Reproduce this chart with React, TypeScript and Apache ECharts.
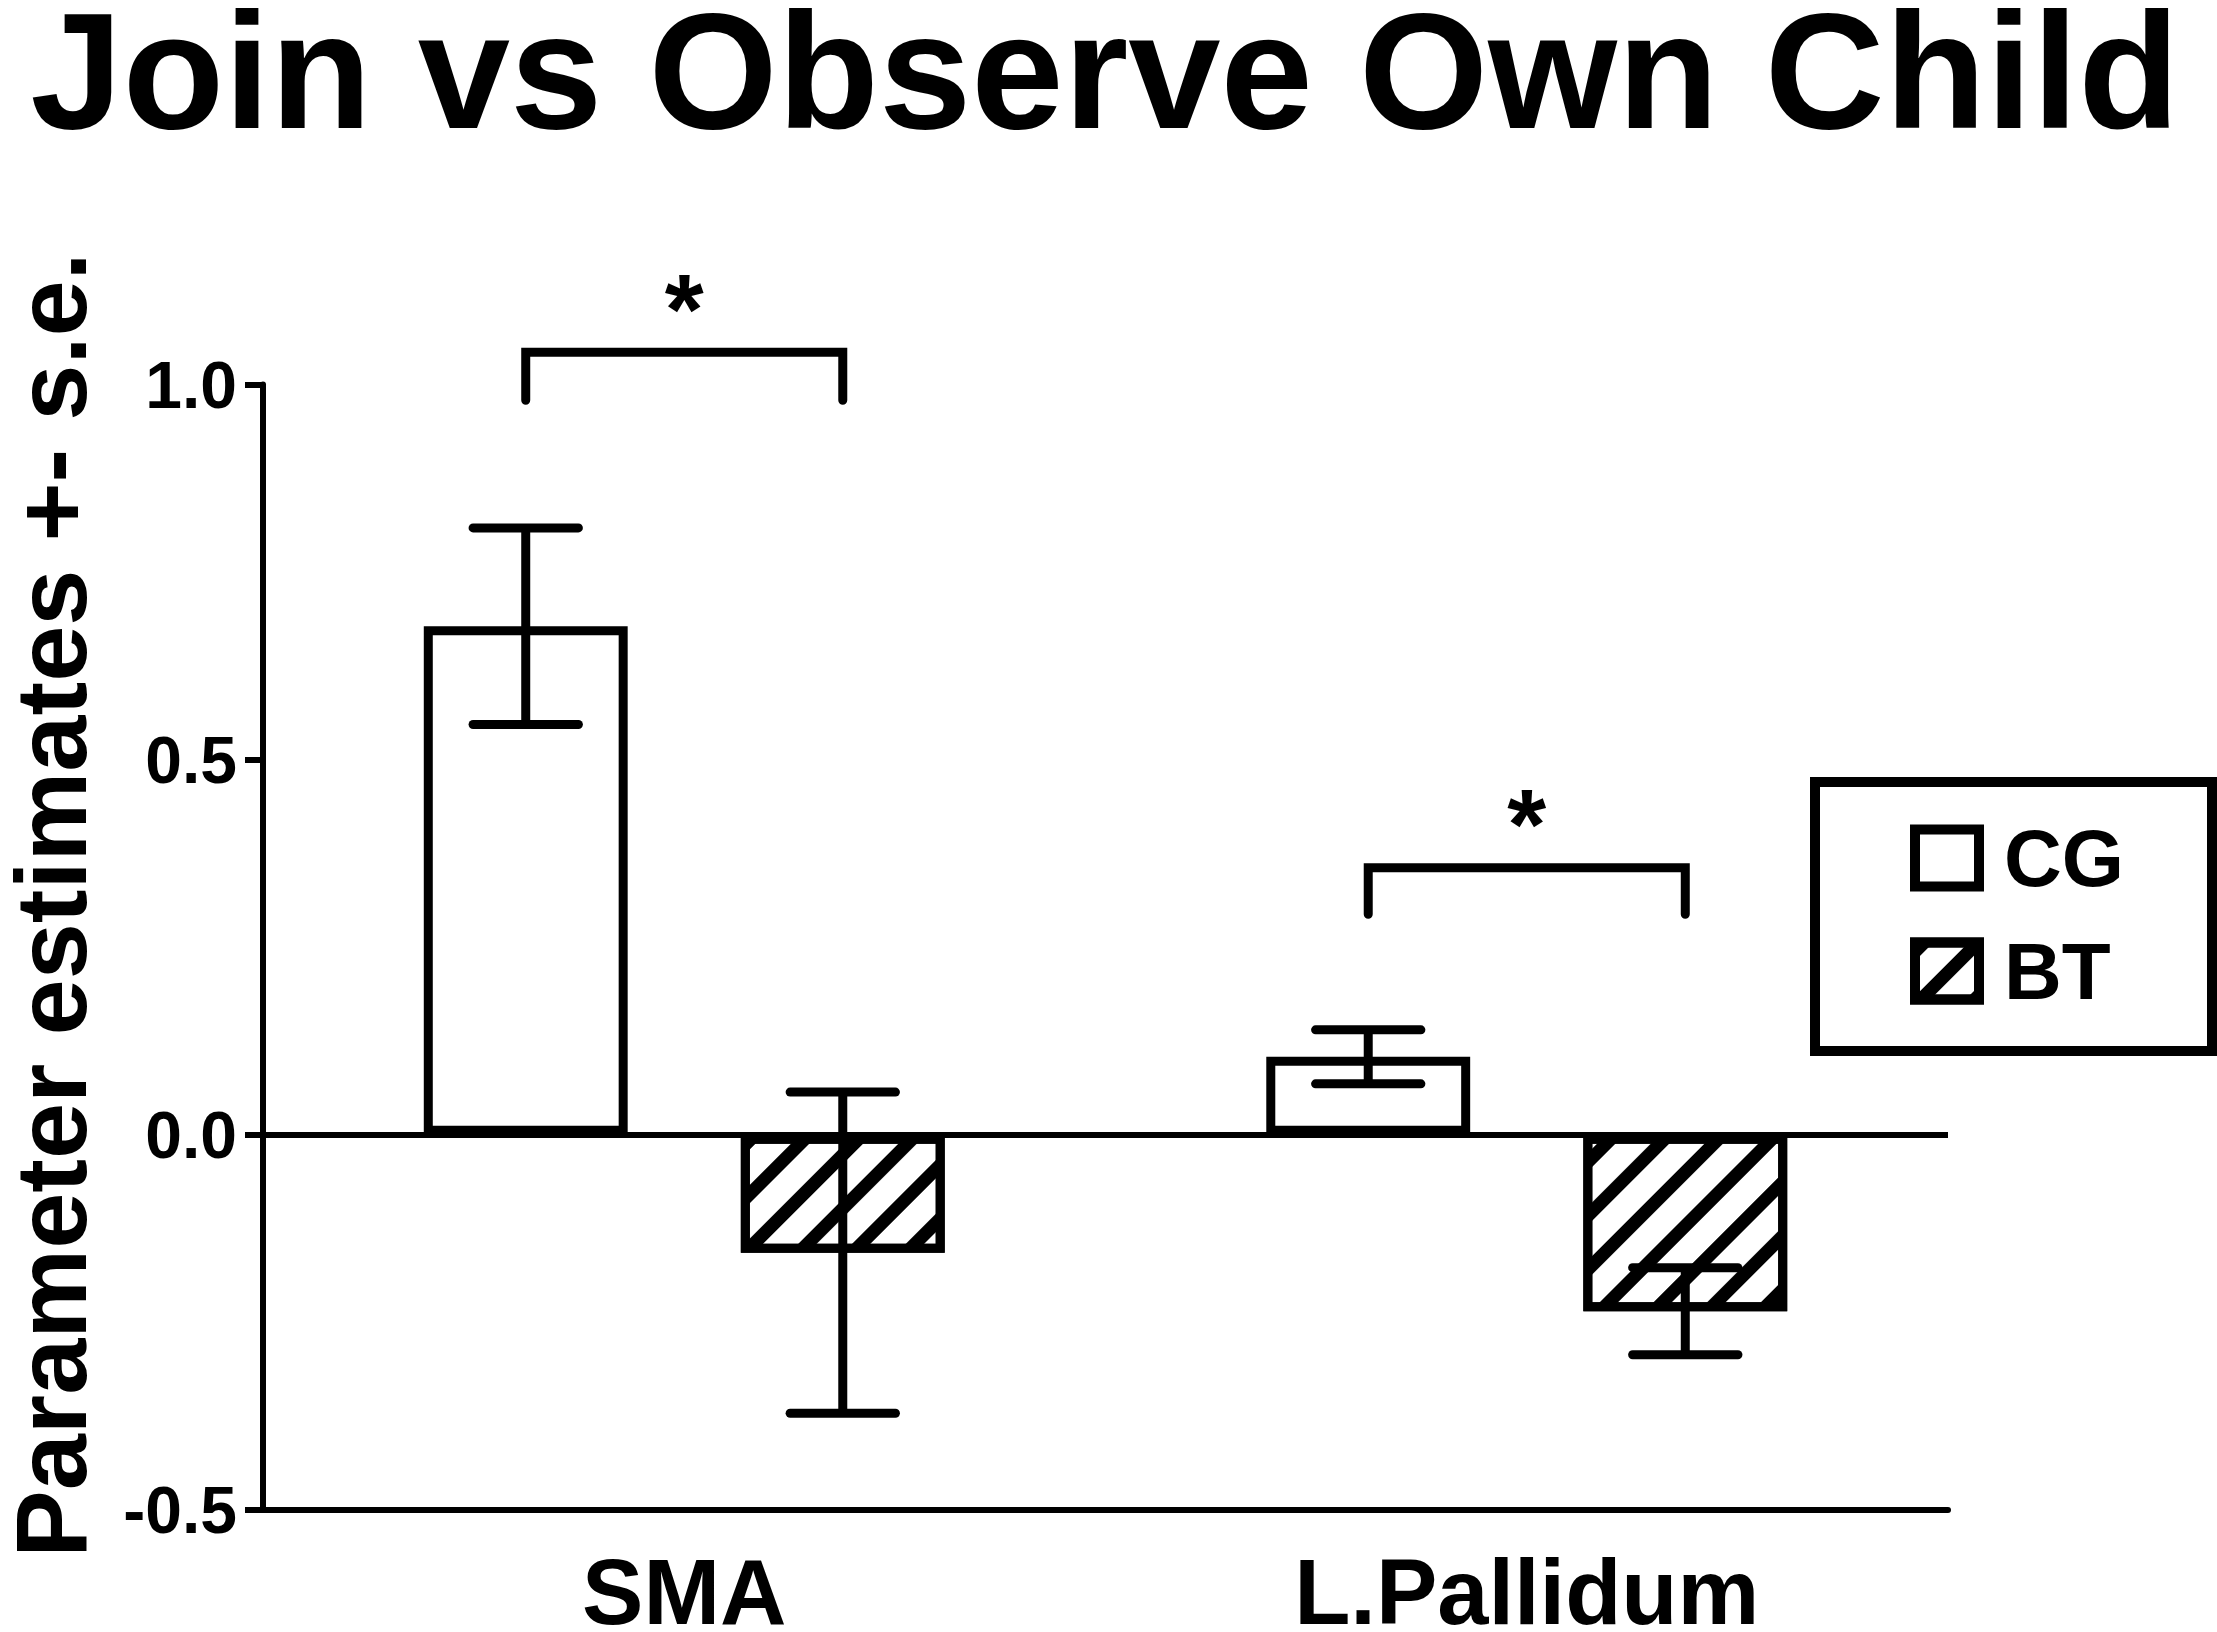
import React, { useEffect, useRef } from "react";
import * as echarts from "echarts";

// ---- data ----
const categories = ["SMA", "L.Pallidum"];
const seriesNames = ["CG", "BT"];
const cgMeans = [0.678, 0.104];
const cgSE = [0.131, 0.036];
const btMeans = [-0.157, -0.235];
const btSE = [0.214, 0.058];
const bracketTop = [1.043, 0.356];
const bracketLegEnd = [0.979, 0.294];
const starLevel = [1.121, 0.435];
const starText = ["*", "*"];
const yTicks = [-0.5, 0.0, 0.5, 1.0];

const TITLE = "Join vs Observe Own Child";
const Y_NAME = "Parameter estimates +- s.e.";

const FONT = "'Liberation Sans', Arial, Helvetica, sans-serif";
const BAR_W = 0.242; // fraction of band (outer edge; ECharts keeps the border inside)
const BAR_GAP = 0.555; // fraction of bar width
const OFFSET = (BAR_W * (1 + BAR_GAP)) / 2;
const CAP = 0.125;

export default function App() {
  const ref = useRef<HTMLDivElement>(null);

  useEffect(() => {
    if (!ref.current) return;
    const chart = echarts.init(ref.current, undefined, { renderer: "svg" });

    const errRender = (sign: number) => (params: any, api: any) => {
      const cat = api.value(0);
      const mean = api.value(1);
      const se = api.value(2);
      const band = api.size([1, 0])[0];
      const c = api.coord([cat, mean]);
      const x = c[0] + sign * band * OFFSET;
      const yT = api.coord([cat, mean + se])[1];
      const yB = api.coord([cat, mean - se])[1];
      const hw = (band * CAP) / 2;
      const st = { stroke: "#000", lineWidth: 9, lineCap: "round" };
      return {
        type: "group",
        children: [
          { type: "line", shape: { x1: x, y1: yT, x2: x, y2: yB }, style: { ...st, lineCap: "butt" } },
          { type: "line", shape: { x1: x - hw, y1: yT, x2: x + hw, y2: yT }, style: st },
          { type: "line", shape: { x1: x - hw, y1: yB, x2: x + hw, y2: yB }, style: st },
        ],
      };
    };

    const bracketRender = (params: any, api: any) => {
      const cat = api.value(0);
      const top = api.value(1);
      const leg = api.value(2);
      const star = api.value(3);
      const band = api.size([1, 0])[0];
      const c = api.coord([cat, top]);
      const xl = c[0] - band * OFFSET;
      const xr = c[0] + band * OFFSET;
      const yTop = c[1];
      const yLeg = api.coord([cat, leg])[1];
      const yStar = api.coord([cat, star])[1];
      return {
        type: "group",
        children: [
          {
            type: "polyline",
            shape: { points: [[xl, yLeg], [xl, yTop], [xr, yTop], [xr, yLeg]] },
            style: { stroke: "#000", lineWidth: 9, lineCap: "round", lineJoin: "miter", fill: "none" },
          },
          {
            type: "text",
            style: {
              text: starText[params.dataIndex],
              x: c[0],
              y: yStar + 15,
              align: "center",
              verticalAlign: "middle",
              fontSize: 100,
              lineHeight: 60,
              fontWeight: "bold",
              fontFamily: FONT,
              fill: "#000",
            },
          },
        ],
      };
    };

    const barItem = {
      color: "#fff",
      borderColor: "#000",
      borderWidth: 9,
    };

    chart.setOption({
      animation: false,
      backgroundColor: "#fff",
      grid: {
        left: 263,
        right: 269,
        top: 384.6,
        bottom: 122,
        containLabel: false,
        outerBoundsMode: "none",
      },
      legend: {
        data: seriesNames,
        orient: "vertical",
        left: 1815,
        top: 782,
        padding: [36, 88, 40, 95],
        itemGap: 33,
        itemWidth: 64,
        itemHeight: 57,
        icon: "rect",
        borderColor: "#000",
        borderWidth: 10,
        backgroundColor: "#fff",
        selectedMode: false,
        itemStyle: { borderColor: "#000", borderWidth: 10 },
        textStyle: {
          fontSize: 80,
          lineHeight: 80,
          fontWeight: "bold",
          color: "#000",
          fontFamily: FONT,
          padding: [0, 0, 0, 20],
        },
      },
      xAxis: {
        type: "category",
        data: categories,
        axisLine: { onZero: false, lineStyle: { color: "#000", width: 6 } },
        axisTick: { alignWithLabel: true, length: 18, lineStyle: { color: "#000", width: 6 } },
        axisLabel: {
          fontSize: 92,
          lineHeight: 64,
          fontWeight: "bold",
          color: "#000",
          fontFamily: FONT,
          margin: 50,
        },
        splitLine: { show: false },
      },
      yAxis: {
        type: "value",
        min: yTicks[0],
        max: yTicks[yTicks.length - 1],
        interval: yTicks[1] - yTicks[0],
        axisLine: { show: true, lineStyle: { color: "#000", width: 6 } },
        axisTick: { show: true, length: 18, lineStyle: { color: "#000", width: 6 } },
        axisLabel: {
          fontSize: 66,
          fontWeight: "bold",
          color: "#000",
          fontFamily: FONT,
          margin: 26,
          formatter: (v: number) => v.toFixed(1),
        },
        splitLine: { show: false },
      },
      graphic: [
        {
          type: "text",
          x: 1105,
          y: 70,
          style: {
            text: TITLE,
            align: "center",
            verticalAlign: "middle",
            fontSize: 166,
            lineHeight: 130,
            fontWeight: "bold",
            fontFamily: FONT,
            fill: "#000",
          },
        },
        {
          type: "text",
          x: 51,
          y: 905,
          rotation: Math.PI / 2,
          style: {
            text: Y_NAME,
            align: "center",
            verticalAlign: "middle",
            fontSize: 101,
            lineHeight: 80,
            fontWeight: "bold",
            fontFamily: FONT,
            fill: "#000",
          },
        },
      ],
      series: [
        {
          name: seriesNames[0],
          type: "bar",
          data: cgMeans,
          barWidth: (BAR_W * 100).toFixed(1) + "%",
          barGap: (BAR_GAP * 100).toFixed(1) + "%",
          itemStyle: barItem,
          z: 2,
          markLine: {
            silent: true,
            symbol: "none",
            label: { show: false },
            lineStyle: { color: "#000", width: 6, type: "solid" },
            data: [{ yAxis: 0 }],
            z: 4,
          },
        },
        {
          name: seriesNames[1],
          type: "bar",
          data: btMeans,
          barWidth: (BAR_W * 100).toFixed(1) + "%",
          barGap: (BAR_GAP * 100).toFixed(1) + "%",
          itemStyle: {
            ...barItem,
            decal: {
              symbol: "rect",
              symbolSize: 1,
              color: "#000",
              dashArrayX: [1, 0],
              dashArrayY: [13, 25],
              rotation: -Math.PI / 4,
            },
          },
          z: 2,
        },
        {
          name: "CG error",
          type: "custom",
          renderItem: errRender(-1),
          data: cgMeans.map((m, i) => [i, m, cgSE[i]]),
          encode: { x: 0, y: 1 },
          z: 5,
          silent: true,
        },
        {
          name: "BT error",
          type: "custom",
          renderItem: errRender(1),
          data: btMeans.map((m, i) => [i, m, btSE[i]]),
          encode: { x: 0, y: 1 },
          z: 5,
          silent: true,
        },
        {
          name: "significance",
          type: "custom",
          renderItem: bracketRender,
          data: bracketTop.map((t, i) => [i, t, bracketLegEnd[i], starLevel[i]]),
          encode: { x: 0, y: 1 },
          z: 5,
          silent: true,
          clip: false,
        },
      ],
    });

    return () => chart.dispose();
  }, []);

  return (
    <div
      ref={ref}
      style={{ position: "absolute", left: 0, top: 0, width: 2217, height: 1632, background: "#fff" }}
    />
  );
}
